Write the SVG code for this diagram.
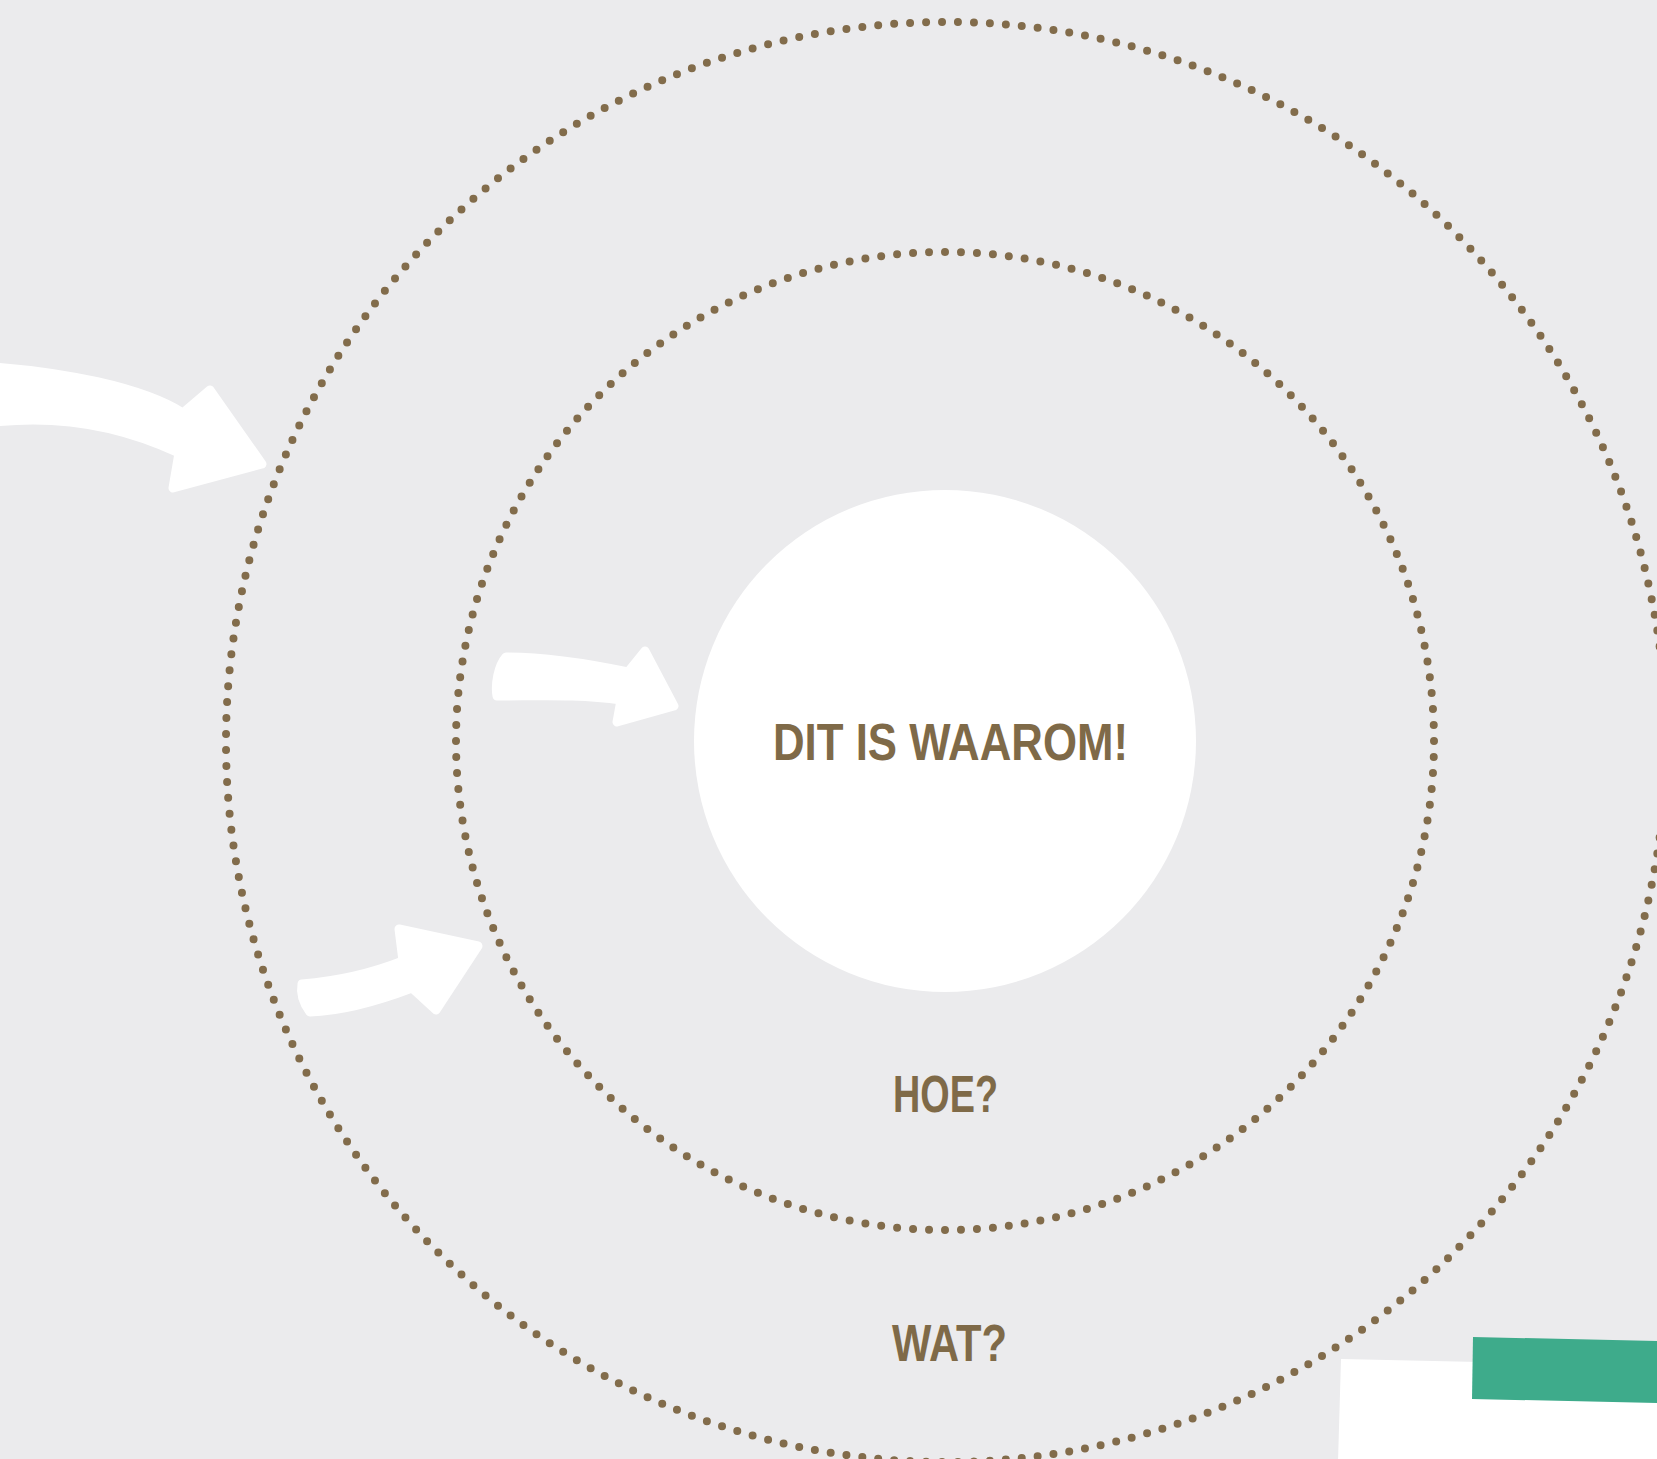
<svg xmlns="http://www.w3.org/2000/svg" width="1657" height="1459" viewBox="0 0 1657 1459">
  <style>
    .ring { fill: none; stroke: #826c4b; stroke-width: 8; stroke-linecap: round; stroke-dasharray: 0 1; }
    .lbl { font-family: "Liberation Sans", Arial, sans-serif; font-weight: bold; font-size: 52px; fill: #7f6a48; text-anchor: middle; }
    .arrow { fill: #ffffff; stroke: #ffffff; stroke-width: 9; stroke-linejoin: round; }
  </style>
  <rect width="1657" height="1459" fill="#ebebed"/>
  <g id="outer-ring">
    <circle class="ring" cx="946" cy="742" r="720" pathLength="283"/>
    <text class="lbl" x="949.5" y="1361" textLength="115" lengthAdjust="spacingAndGlyphs">WAT?</text>
  </g>
  <g id="middle-ring">
    <circle class="ring" cx="945" cy="741" r="489" pathLength="192"/>
    <text class="lbl" x="945.5" y="1112" textLength="105" lengthAdjust="spacingAndGlyphs">HOE?</text>
  </g>
  <g id="core">
    <circle cx="945" cy="741" r="251" fill="#ffffff"/>
    <text class="lbl" x="950.5" y="760" textLength="355" lengthAdjust="spacingAndGlyphs">DIT IS WAAROM!</text>
  </g>
  <g id="connectors">
    <path class="arrow" d="M -5,367 C 60,372 140,386 183,413 L 210,390 L 262,464 L 173,488 L 179,453 C 130,430 70,414 -5,422 Z"/>
    <path class="arrow" d="M 506,657 C 550,657 590,664 628,672 L 645,651 L 674,706 L 617,722 L 621,700 C 580,694 540,696 497,696 C 495,685 498,666 506,657 Z"/>
    <path class="arrow" d="M 302,984 C 340,981 370,974 403,961 L 399,929 L 478,946 L 436,1010 L 412,988 C 375,1002 340,1011 310,1012 C 304,1004 300,995 302,984 Z"/>
  </g>
  <g id="card">
    <polygon points="1341,1359 1660,1366 1660,1462 1338,1462" fill="#ffffff"/>
    <polygon points="1473,1337 1660,1341 1660,1403 1472,1399" fill="#3eab8b"/>
  </g>
</svg>
